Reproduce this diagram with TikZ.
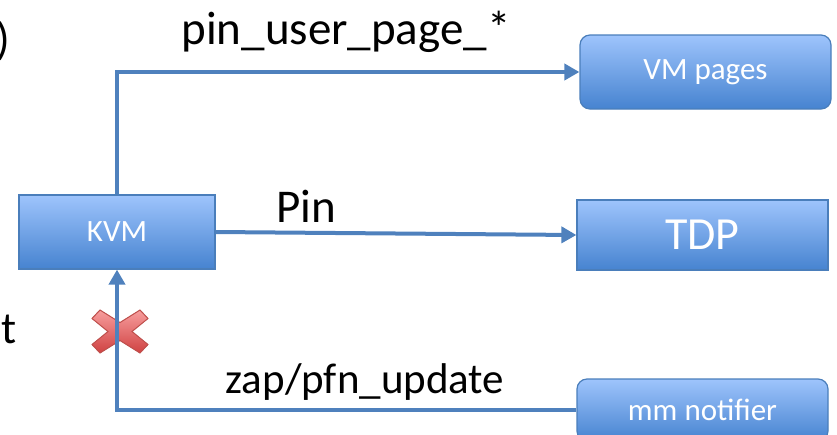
\documentclass[tikz,border=0pt]{standalone}
\usepackage{fontspec}
\setmainfont{Carlito}
\usetikzlibrary{arrows.meta}

\definecolor{linkblue}{RGB}{79,129,189}
\definecolor{boxtop}{RGB}{158,196,252}
\definecolor{boxbot}{RGB}{70,131,208}
\definecolor{boxline}{RGB}{74,126,187}
\definecolor{crosstop}{RGB}{247,158,158}
\definecolor{crossbot}{RGB}{208,66,66}
\definecolor{crossline}{RGB}{192,80,77}

\tikzset{
  block/.style={draw=boxline, line width=1.2pt, top color=boxtop, bottom color=boxbot,
    text=white, inner sep=0pt, font=\fontsize{31}{31}\selectfont},
  roundblock/.style={block, rounded corners=10pt},
  conn/.style={draw=linkblue, line width=4pt},
  tip/.style={-{Triangle[length=15pt,width=16pt]}},
  lbl/.style={anchor=base, inner sep=0pt, font=\fontsize{47}{47}\selectfont},
}

\begin{document}
\begin{tikzpicture}[x=1pt, y=-1pt]
  \useasboundingbox (0,0) rectangle (837,434);
  \clip (0,0) rectangle (837,434);

  % boxes
  \node[block, minimum width=196pt, minimum height=74pt] (kvm) at (117,232) {KVM};
  \node[roundblock, minimum width=251pt, minimum height=74pt] (vm) at (705.5,72) {VM pages};
  \node[block, minimum width=251pt, minimum height=70pt, font=\fontsize{46}{46}\selectfont] (tdp) at (702.5,235) {TDP};
  \node[roundblock, minimum width=251pt, minimum height=62pt] (mm) at (702.5,410) {mm notifier};

  % blocked notification marker
  \filldraw[draw=crossline, line width=1pt, top color=crosstop, bottom color=crossbot]
    (120,331.5) +(-20,-21.5) -- +(-28,-13) -- +(-12,0) -- +(-28,13) -- +(-20,21.5)
    -- +(0,9) -- +(20,21.5) -- +(28,13) -- +(12,0) -- +(28,-13) -- +(20,-21.5)
    -- +(0,-9) -- cycle;

  % connectors
  \draw[conn, tip] (kvm.north) |- (vm.west);
  \draw[conn, tip] (kvm.east) -- (tdp.west);
  \draw[conn, tip] (mm.west) -| (kvm.south);

  % connector labels
  \node[lbl] (l1) at (346,44) {pin\_user\_page\_*};
  \node[lbl] (l2) at (306,222) {Pin};
  \node[lbl, font=\fontsize{43}{43}\selectfont] (l3) at (365,393) {zap/pfn\_update};

  % text running in from the left side
  \node[anchor=base east, inner sep=0pt, font=\fontsize{45}{45}\selectfont] (t1) at (10,54) {)};
  \node[anchor=base east, inner sep=0pt, font=\fontsize{45}{45}\selectfont] (t2) at (17,343) {t};
\end{tikzpicture}
\end{document}
